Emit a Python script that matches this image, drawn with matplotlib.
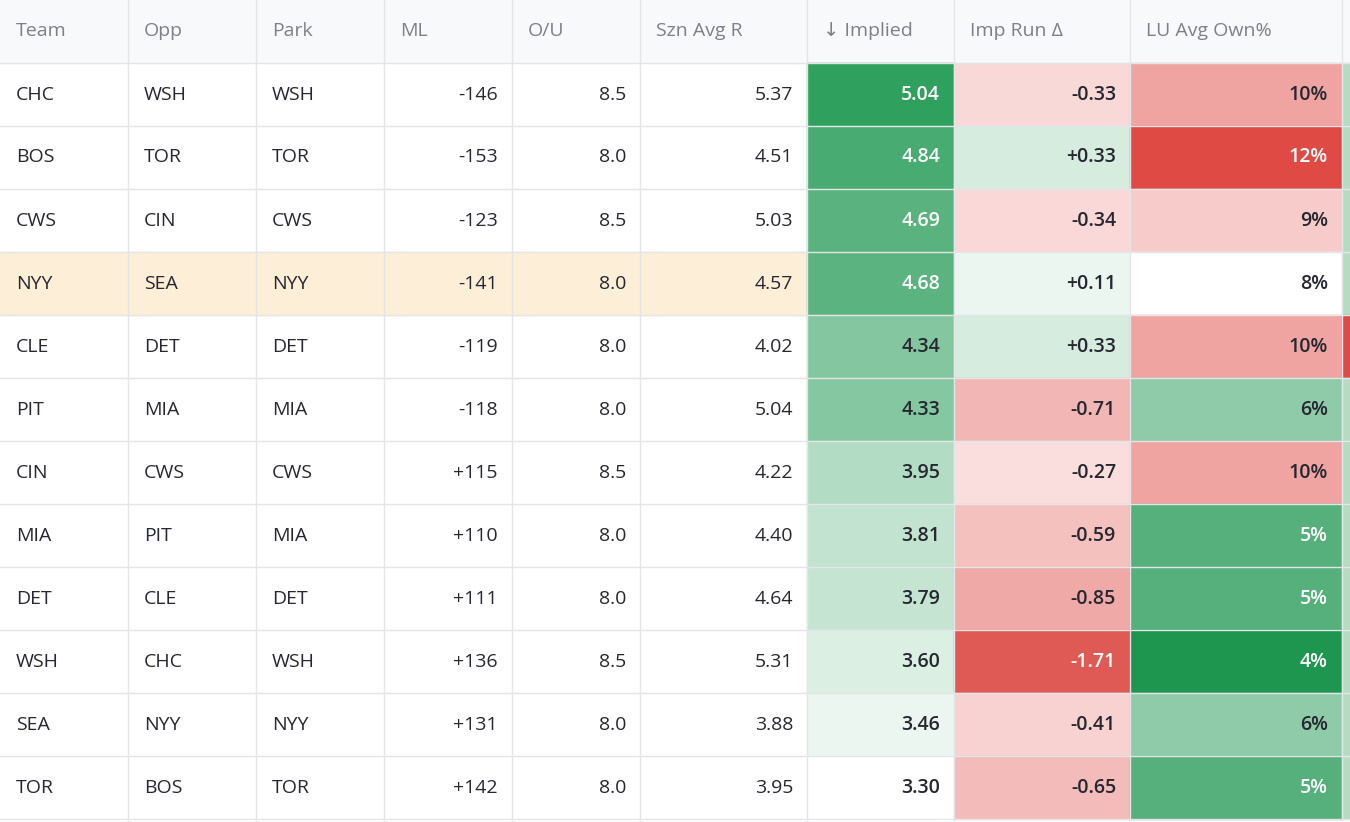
import matplotlib
matplotlib.use("Agg")
import matplotlib.pyplot as plt
from matplotlib.patches import Rectangle
import numpy as np

headers = ["Team", "Opp", "Park", "ML", "O/U", "Szn Avg R", "↓ Implied", "Imp Run Δ", "LU Avg Own%"]
team = ["CHC","BOS","CWS","NYY","CLE","PIT","CIN","MIA","DET","WSH","SEA","TOR"]
opp = ["WSH","TOR","CIN","SEA","DET","MIA","CWS","PIT","CLE","CHC","NYY","BOS"]
park = ["WSH","TOR","CWS","NYY","DET","MIA","CWS","MIA","DET","WSH","NYY","TOR"]
ml = [-146,-153,-123,-141,-119,-118,115,110,111,136,131,142]
ou = [8.5,8.0,8.5,8.0,8.0,8.0,8.5,8.0,8.0,8.5,8.0,8.0]
szn = [5.37,4.51,5.03,4.57,4.02,5.04,4.22,4.40,4.64,5.31,3.88,3.95]
implied = [5.04,4.84,4.69,4.68,4.34,4.33,3.95,3.81,3.79,3.60,3.46,3.30]
delta = [-0.33,0.33,-0.34,0.11,0.33,-0.71,-0.27,-0.59,-0.85,-1.71,-0.41,-0.65]
own = [10,12,9,8,10,6,10,5,5,4,6,5]
highlight_row = 3

W, H = 1350, 822
fig = plt.figure(figsize=(13.5, 8.22), dpi=100)
ax = fig.add_axes([0, 0, 1, 1])
ax.set_xlim(0, W); ax.set_ylim(H, 0); ax.axis("off")

xb = [0, 128, 256, 384, 512, 640, 807, 954, 1130, 1342]
hh = 63; rh = 63
FONT = ["Open Sans", "DejaVu Sans"]
FS = 14
grid = "#e4e5e8"

def mix(c1, c2, t):
    c1 = np.array(matplotlib.colors.to_rgb(c1)); c2 = np.array(matplotlib.colors.to_rgb(c2))
    return tuple(c1 + (c2 - c1) * max(0, min(1, t)))

def imp_color(v):
    return mix("#ffffff", "#30a05f", (v - 3.30) / (5.04 - 3.30))

def delta_color(v):
    if v >= 0:
        return mix("#fcfefd", "#d5ecdf", (v + 0.05) / 0.38)
    return mix("#fdeeee", "#e05a55", (-v - 0.1) / 1.61)

def own_color(v):
    if v >= 8:
        return mix("#ffffff", "#e04a44", (v - 8) / 4 * 0.95 + (0.05 if v > 8 else 0)) if v != 10 else "#efa4a2"
    return mix("#ffffff", "#1e9650", (8 - v) / 4)

# header
ax.add_patch(Rectangle((0, 0), W, hh, color="#f8f9fb", zorder=0))
for i, h in enumerate(headers):
    ax.text(xb[i] + 16, hh / 2, h, fontsize=FS, color="#7d8088", va="center", ha="left", family=FONT)

for r in range(len(team)):
    y0 = hh + r * rh
    yc = y0 + rh / 2
    if r == highlight_row:
        ax.add_patch(Rectangle((0, y0), xb[6], rh, color="#fdeed8", zorder=0))
    cells = [
        (team[r], None, False), (opp[r], None, False), (park[r], None, False),
        (f"{ml[r]:+d}", None, False), (f"{ou[r]:.1f}", None, False), (f"{szn[r]:.2f}", None, False),
        (f"{implied[r]:.2f}", imp_color(implied[r]), implied[r] >= 4.6),
        (f"{delta[r]:+.2f}" if delta[r] > 0 else f"{delta[r]:.2f}", delta_color(delta[r]), delta[r] < -1.5),
        (f"{own[r]}%", own_color(own[r]), own[r] >= 12 or own[r] <= 5),
    ]
    for c, (txt, bg, white) in enumerate(cells):
        if bg is not None:
            ax.add_patch(Rectangle((xb[c], y0), xb[c + 1] - xb[c], rh, color=bg, zorder=1))
        bold = bg is not None
        col = "white" if white else "#262730"
        if c < 3:
            ax.text(xb[c] + 16, yc, txt, fontsize=FS, color=col, va="center", ha="left", family=FONT, zorder=3)
        else:
            ax.text(xb[c + 1] - 14, yc, txt, fontsize=FS, color=col, va="center", ha="right",
                    family=FONT, fontweight="semibold" if bold else "normal", zorder=3)
    ax.add_patch(Rectangle((xb[-1], y0), W - xb[-1], rh,
                           color="#e04a44" if r == 4 else "#b5dcc3", zorder=1))

for x in xb[1:]:
    ax.plot([x, x], [0, H], color=grid, lw=1, zorder=2)
for r in range(len(team) + 1):
    y = hh + r * rh
    ax.plot([0, W], [y, y], color=grid, lw=1, zorder=2)

fig.savefig("out.png", dpi=100)
